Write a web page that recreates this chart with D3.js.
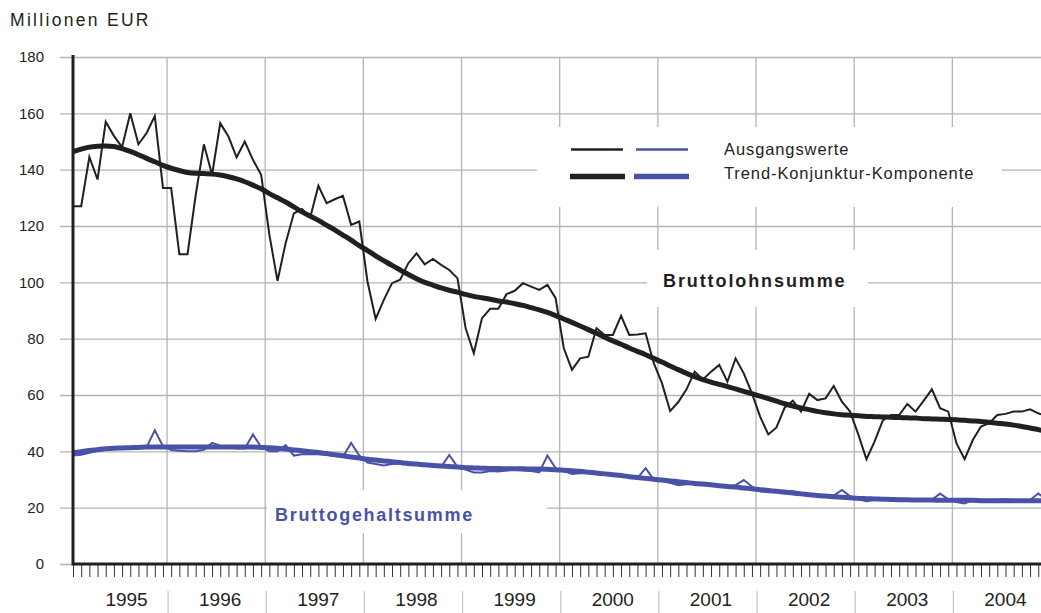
<!DOCTYPE html>
<html><head><meta charset="utf-8">
<script src="https://cdn.jsdelivr.net/npm/d3@7"></script>
<style>
html,body{margin:0;padding:0;background:#fff;}
svg{display:block;font-family:"Liberation Sans",Arial,sans-serif;}
</style></head>
<body>
<script>
// ---- data (monthly, Jan 1995 .. Dec 2004) ----
const years = ["1995","1996","1997","1998","1999","2000","2001","2002","2003","2004"];
const yTicks = [0,20,40,60,80,100,120,140,160,180];

const lohnRaw = [
 127,127,144.5,136.5,157,152,148,160,149,153,159,133.5,
 133.5,110,110,131,149,138.2,156.5,151.8,144.4,150,143.5,138.2,
 117,100.5,114,124.5,126,123,134.3,128.1,129.5,130.7,120.4,121.6,
 100.3,87,93.8,99.7,100.9,106.8,110.3,106.4,108.3,106.2,104.4,101.5,
 83.7,74.8,87.3,90.6,90.6,95.8,97,99.7,98.5,97.3,99.1,94.4,
 76.6,68.9,73,73.6,83.7,81.3,81.3,88.1,81.3,81.5,81.9,71.3,
 64.2,54.3,57.5,62,68.3,65.5,68.3,70.7,64.7,73,67.7,60.6,
 52.3,46,48.5,55.5,58,54.1,60.4,58.2,58.8,63.2,57.6,54.1,
 46,37.2,43.5,51,52.9,52.9,56.8,54.1,58,62,55.3,54.1,
 42.9,37.2,44,48.8,50,52.9,53.3,54.1,54.1,54.9,53.5,52.5
];
const lohnTrend = [
 146.4,147.3,148,148.3,148.4,148.2,147.5,146.5,145.3,144,142.8,141.5,
 140.5,139.7,139,138.7,138.6,138.5,138.1,137.5,136.7,135.7,134.5,133.2,
 131.5,130,128.5,126.8,125,123.5,122,120.3,118.6,116.8,115,113,
 111.3,109.4,107.7,106,104.4,102.8,101.3,100,99,98,97.2,96.5,
 95.7,95,94.5,94,93.4,93,92.4,91.8,91,90.2,89.3,88.2,
 87,85.8,84.5,83.2,81.9,80.5,79.2,78,76.7,75.5,74.3,73,
 71.7,70.3,69,67.7,66.5,65.5,64.6,63.8,63,62.2,61.3,60.5,
 59.6,58.7,57.8,56.9,56.1,55.4,54.8,54.2,53.7,53.3,53,52.8,
 52.6,52.4,52.3,52.2,52.1,52,51.9,51.8,51.6,51.5,51.4,51.3,
 51.2,51,50.8,50.6,50.3,50,49.7,49.3,48.8,48.3,47.7,47.1
];
const gehaltRaw = [
 38.5,38.8,39.5,40.2,40.6,40.8,41,40.8,41.3,41.5,47.5,41.8,
 40.5,40.2,40,40,40.5,43,42,41.5,41,41,46,41.5,
 40,40,42.2,38.5,39,39,39,38.8,38.5,38,43,38.5,
 36,35.5,35,35.5,35.8,35.5,35.3,35,34.8,34.5,38.7,34.5,
 33.5,32.5,32.5,33,32.8,33.2,33.5,33.2,33,32.5,38.5,34,
 33,32,32.2,32.2,32.3,32,31.8,31.5,31,30.5,34,30,
 29.5,28.8,28,28.3,28.5,28.2,28,27.5,27.5,28,29.8,27.5,
 25.8,25.5,25.8,26,25.8,25.3,24.8,24.5,24.2,24.3,26.3,24,
 23,22.3,22.8,22.8,23,23,22.7,22.5,22.5,22.8,25,23,
 22,21.5,22.7,22.8,22.8,22.8,23,22.7,22.7,22.7,25,23
];
const gehaltTrend = [
 39.5,39.9,40.3,40.6,40.9,41.1,41.2,41.3,41.4,41.5,41.5,41.5,
 41.5,41.5,41.5,41.5,41.5,41.5,41.5,41.5,41.5,41.5,41.5,41.4,
 41.3,41.1,40.8,40.5,40.2,39.9,39.6,39.2,38.8,38.4,38,37.6,
 37.2,36.9,36.6,36.3,36,35.7,35.5,35.2,35,34.8,34.6,34.4,
 34.2,34.1,34,33.9,33.9,33.8,33.8,33.8,33.7,33.7,33.6,33.5,
 33.3,33.1,32.9,32.6,32.3,32,31.7,31.4,31,30.7,30.4,30.1,
 29.8,29.5,29.2,28.9,28.6,28.4,28.1,27.8,27.5,27.3,27,26.7,
 26.4,26.1,25.8,25.5,25.2,24.9,24.6,24.3,24.1,23.9,23.7,23.5,
 23.3,23.2,23.1,23,22.9,22.8,22.8,22.7,22.7,22.7,22.6,22.6,
 22.6,22.6,22.6,22.5,22.5,22.5,22.5,22.5,22.5,22.5,22.5,22.5
];
const legendLabels = ["Ausgangswerte","Trend-Konjunktur-Komponente"];
const unitLabel = "Millionen EUR";
const seriesLabels = ["Bruttolohnsumme","Bruttogehaltsumme"];

// ---- layout ----
const W = 1041, H = 613;
const BLACK = "#231f20", BLUE = "#4a52a8", GRID = "#b4b4b4";
const months = d3.range(120);
const x = d3.scaleLinear().domain([0,119]).range([73, 73 + 119*8.18]);
const y = d3.scaleLinear().domain([0,180]).range([564, 57]);

const svg = d3.select("body").append("svg").attr("width",W).attr("height",H);

svg.append("text").attr("x",10).attr("y",26).attr("font-size",17.5)
  .attr("letter-spacing",2.3).attr("fill",BLACK).text(unitLabel);

// horizontal gridlines via y axis
const yAxis = d3.axisLeft(y).tickValues(yTicks).tickSize(-(W-60)).tickPadding(16);
const gy = svg.append("g").attr("transform","translate(60,0)").call(yAxis);
gy.select(".domain").remove();
gy.selectAll(".tick line").attr("stroke",GRID).attr("stroke-width",1.3);
gy.selectAll(".tick text").attr("font-size",15).attr("fill",BLACK)
  .attr("x",-16).attr("font-family","Liberation Sans, Arial, sans-serif");

// vertical year gridlines
const bounds = d3.range(1,10).map(k => x(12*k - 0.5));
svg.append("g").selectAll("line").data(bounds).join("line")
  .attr("x1",d=>d).attr("x2",d=>d).attr("y1",y(180)).attr("y2",y(0))
  .attr("stroke",GRID).attr("stroke-width",1.3);

// white label boxes
svg.append("rect").attr("x",537).attr("y",127).attr("width",465).attr("height",80).attr("fill","#fff");
svg.append("rect").attr("x",647).attr("y",250).attr("width",221).attr("height",57).attr("fill","#fff");
svg.append("rect").attr("x",267).attr("y",490).attr("width",280).attr("height",43).attr("fill","#fff");

// lines
const line = d3.line().x((d,i)=>x(i)).y(d=>y(d)).curve(d3.curveLinear);
const smooth = d3.line().x((d,i)=>x(i)).y(d=>y(d)).curve(d3.curveMonotoneX);
svg.append("path").datum(gehaltTrend).attr("d",smooth).attr("fill","none")
  .attr("stroke",BLUE).attr("stroke-width",5);
svg.append("path").datum(gehaltRaw).attr("d",line).attr("fill","none")
  .attr("stroke",BLUE).attr("stroke-width",2).attr("stroke-linejoin","miter");
svg.append("path").datum(lohnTrend).attr("d",smooth).attr("fill","none")
  .attr("stroke",BLACK).attr("stroke-width",5);
svg.append("path").datum(lohnRaw).attr("d",line).attr("fill","none")
  .attr("stroke",BLACK).attr("stroke-width",2).attr("stroke-linejoin","miter");

// series labels
svg.append("text").attr("x",663).attr("y",287).attr("font-size",18).attr("font-weight","bold")
  .attr("letter-spacing",1.9).attr("fill",BLACK).text(seriesLabels[0]);
svg.append("text").attr("x",275).attr("y",521).attr("font-size",18).attr("font-weight","bold")
  .attr("letter-spacing",1.7).attr("fill",BLUE).text(seriesLabels[1]);

// legend
const lg = svg.append("g");
lg.append("line").attr("x1",571).attr("x2",623).attr("y1",149.5).attr("y2",149.5).attr("stroke",BLACK).attr("stroke-width",2.5);
lg.append("line").attr("x1",636).attr("x2",688).attr("y1",149.5).attr("y2",149.5).attr("stroke",BLUE).attr("stroke-width",2.5);
lg.append("line").attr("x1",570).attr("x2",625).attr("y1",176.5).attr("y2",176.5).attr("stroke",BLACK).attr("stroke-width",5.5);
lg.append("line").attr("x1",634).attr("x2",689).attr("y1",176.5).attr("y2",176.5).attr("stroke",BLUE).attr("stroke-width",5.5);
lg.selectAll("text").data(legendLabels).join("text")
  .attr("x",724).attr("y",(d,i)=>155+i*23.5).attr("font-size",16.5).attr("letter-spacing",0.9)
  .attr("fill",BLACK).text(d=>d);

// month ticks
const xAxis = d3.axisBottom(x).tickValues(months).tickSize(12).tickFormat("");
const gx = svg.append("g").attr("transform","translate(0,565)").call(xAxis);
gx.select(".domain").remove();
gx.selectAll(".tick line").attr("stroke","#333").attr("stroke-width",1);

// axes lines
svg.append("line").attr("x1",73).attr("x2",W).attr("y1",y(0)).attr("y2",y(0)).attr("stroke",BLACK).attr("stroke-width",3);
svg.append("line").attr("x1",73).attr("x2",73).attr("y1",55).attr("y2",y(0)+1.5).attr("stroke",BLACK).attr("stroke-width",3);

// year labels and separators
svg.append("g").selectAll("line").data(bounds).join("line")
  .attr("x1",d=>d+1).attr("x2",d=>d+1).attr("y1",591).attr("y2",H)
  .attr("stroke","#c8c8c8").attr("stroke-width",1.3);
svg.append("g").selectAll("text").data(years).join("text")
  .attr("x",(d,k)=>{const l=Math.max(x(12*k-0.5),78), r=x(12*k+11.5); return (l+r)/2+4;})
  .attr("y",606).attr("text-anchor","middle").attr("font-size",19).attr("fill",BLACK)
  .text(d=>d);
</script>
</body></html>
